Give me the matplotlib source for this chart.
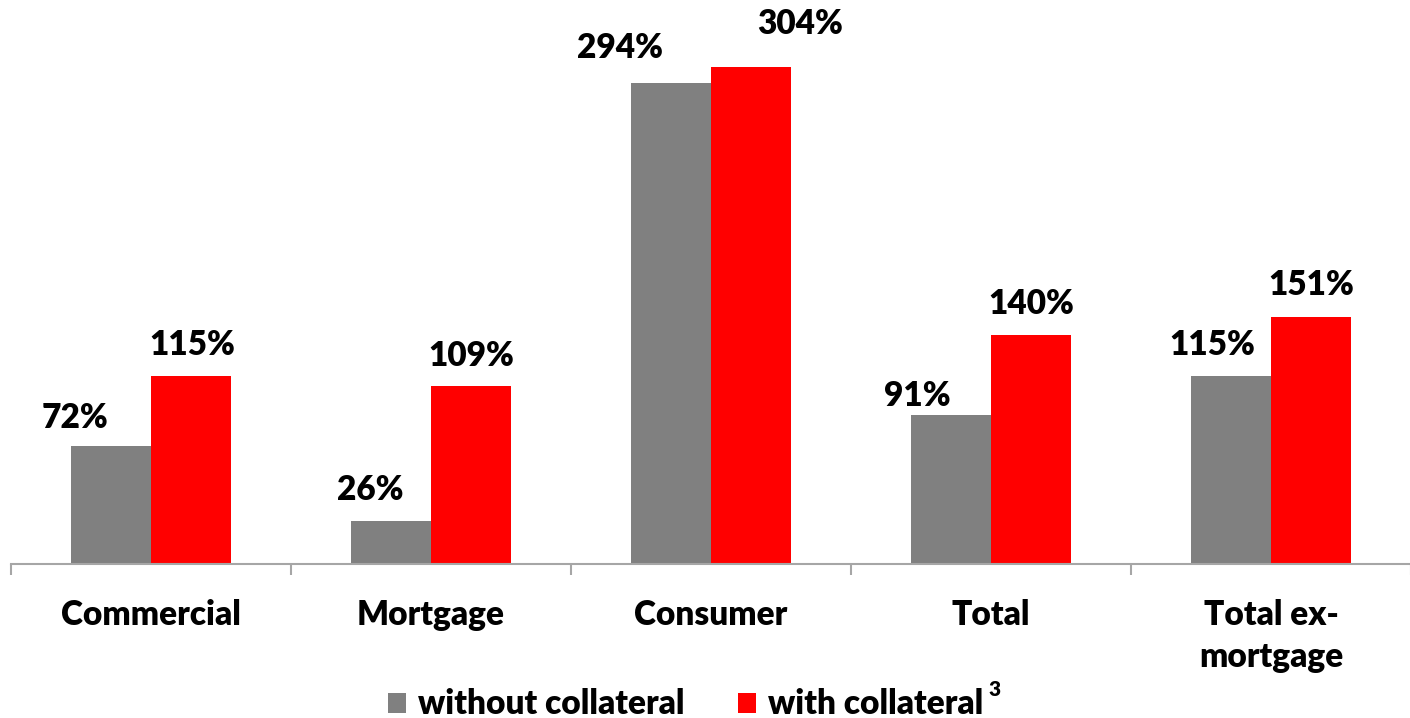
import numpy as np
import matplotlib.pyplot as plt

plt.rcParams['font.family'] = ['Lato', 'DejaVu Sans']
plt.rcParams['font.weight'] = 'bold'

categories = ["Commercial", "Mortgage", "Consumer", "Total", "Total ex-\nmortgage"]
without_coll = [72, 26, 294, 91, 115]
with_coll = [115, 109, 304, 140, 151]

# label nudges in pixels (manual placement like the original deck)
off_without = [(-36, 28), (-21, 31), (-51, 35), (-34, 19), (-19, 31)]
off_with = [(1, 31), (0, 30), (49, 43), (0, 31), (0, 32)]

GRAY = "#808080"
RED = "#ff0000"
FS = 24

fig = plt.figure(figsize=(14.1, 7.18), dpi=100)
ax = fig.add_axes([11 / 1410, (718 - 564) / 718, 1400 / 1410, 540 / 718])

x = np.arange(len(categories))
w = 80 / 280
b1 = ax.bar(x - w / 2, without_coll, w, color=GRAY, label="without collateral")
b2 = ax.bar(x + w / 2, with_coll, w, color=RED, label="with collateral")

for bars, vals, offs in [(b1, without_coll, off_without), (b2, with_coll, off_with)]:
    for rect, v, (dx, dy) in zip(bars, vals, offs):
        ax.annotate(f"{v}%", (rect.get_x() + rect.get_width() / 2, rect.get_height()),
                    xytext=(dx, dy), textcoords="offset pixels",
                    ha="center", va="center", fontsize=FS, fontweight="heavy")

ax.set_xlim(-0.5, 4.5)
ax.set_ylim(0, 330)
ax.set_yticks([])
for s in ["left", "top", "right"]:
    ax.spines[s].set_visible(False)
ax.spines["bottom"].set_color("#a6a6a6")
ax.spines["bottom"].set_linewidth(1.5)

ax.set_xticks(np.arange(-0.5, 5.0, 1.0))
ax.set_xticklabels([])
ax.tick_params(axis="x", which="major", length=8, width=1.5, color="#a6a6a6", direction="out")
ax.set_xticks(x, minor=True)
ax.set_xticklabels(categories, minor=True, fontsize=FS, fontweight="heavy", linespacing=1.38)
ax.tick_params(axis="x", which="minor", length=0, pad=25)

leg = fig.legend(handles=[b1, b2], loc="center", bbox_to_anchor=(0.486, 0.019),
                 ncol=2, frameon=False, handlelength=0.55, handleheight=0.55,
                 handletextpad=0.35, columnspacing=1.6, prop={'weight': 'heavy', 'size': FS})

# footnote marker after the second legend entry
fig.canvas.draw()
bb = leg.get_texts()[1].get_window_extent()
fig.text((bb.x1 + 6) / 1410, (bb.y1 + 8) / 718, "3", fontsize=15, fontweight="heavy",
         ha="left", va="top")

fig.savefig("out.png", dpi=100)
